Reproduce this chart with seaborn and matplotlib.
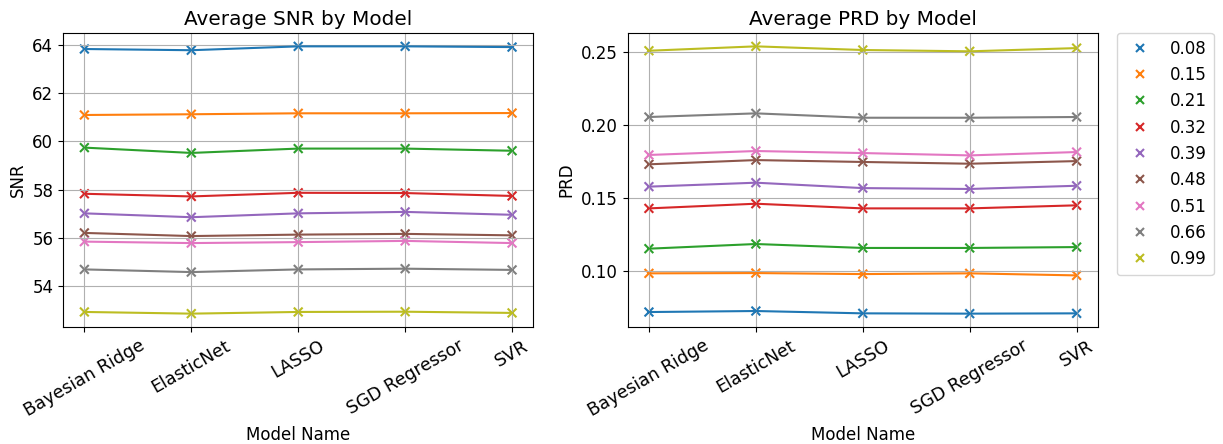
import pandas as pd
import matplotlib
matplotlib.use("Agg")
import matplotlib.pyplot as plt
import seaborn as sns

models = ['Bayesian Ridge', 'ElasticNet', 'LASSO', 'SGD Regressor', 'SVR']
levels = ['0.08', '0.15', '0.21', '0.32', '0.39', '0.48', '0.51', '0.66', '0.99']

snr_008 = [63.82, 63.77, 63.93, 63.93, 63.90]
snr_015 = [61.09, 61.12, 61.16, 61.16, 61.17]
snr_021 = [59.74, 59.52, 59.70, 59.70, 59.61]
snr_032 = [57.83, 57.72, 57.87, 57.86, 57.74]
snr_039 = [57.02, 56.86, 57.02, 57.08, 56.96]
snr_048 = [56.21, 56.08, 56.14, 56.17, 56.11]
snr_051 = [55.85, 55.79, 55.83, 55.88, 55.79]
snr_066 = [54.70, 54.59, 54.70, 54.73, 54.68]
snr_099 = [52.94, 52.87, 52.94, 52.95, 52.90]

prd_008 = [0.0719, 0.0726, 0.0710, 0.0708, 0.0710]
prd_015 = [0.0984, 0.0986, 0.0979, 0.0984, 0.0970]
prd_021 = [0.1153, 0.1185, 0.1158, 0.1158, 0.1164]
prd_032 = [0.1429, 0.1461, 0.1429, 0.1429, 0.1450]
prd_039 = [0.1578, 0.1605, 0.1568, 0.1562, 0.1584]
prd_048 = [0.1731, 0.1760, 0.1747, 0.1735, 0.1753]
prd_051 = [0.1795, 0.1822, 0.1808, 0.1792, 0.1815]
prd_066 = [0.2055, 0.2080, 0.2050, 0.2050, 0.2055]
prd_099 = [0.2509, 0.2539, 0.2514, 0.2505, 0.2527]

snr_all = [snr_008, snr_015, snr_021, snr_032, snr_039, snr_048, snr_051, snr_066, snr_099]
prd_all = [prd_008, prd_015, prd_021, prd_032, prd_039, prd_048, prd_051, prd_066, prd_099]

rows = []
for lvl, snr, prd in zip(levels, snr_all, prd_all):
    for m, s, p in zip(models, snr, prd):
        rows.append({'Model Name': m, 'Noise': lvl, 'SNR': s, 'PRD': p})
df = pd.DataFrame(rows)

plt.rcParams['font.size'] = 12
palette = sns.color_palette('tab10', len(levels))

fig, axes = plt.subplots(1, 2, figsize=(12.23, 4.44), dpi=100)

for ax, metric in zip(axes, ['SNR', 'PRD']):
    sns.lineplot(data=df, x='Model Name', y=metric, hue='Noise', hue_order=levels,
                 palette=palette, ax=ax, legend=False)
    sns.scatterplot(data=df, x='Model Name', y=metric, hue='Noise', hue_order=levels,
                    palette=palette, marker='x', s=40, linewidth=1.5, ax=ax,
                    legend=(metric == 'PRD'))
    ax.set_title(f'Average {metric} by Model')
    ax.grid(True)
    ax.tick_params(axis='x', labelrotation=30, labelsize=12.6)

axes[1].legend(title=None, bbox_to_anchor=(1.04, 1.0), loc='upper left', borderaxespad=0)

plt.subplots_adjust(left=0.0515, right=0.8978, top=0.9257, bottom=0.2635, wspace=0.2)
plt.savefig('out.png', dpi=100)
